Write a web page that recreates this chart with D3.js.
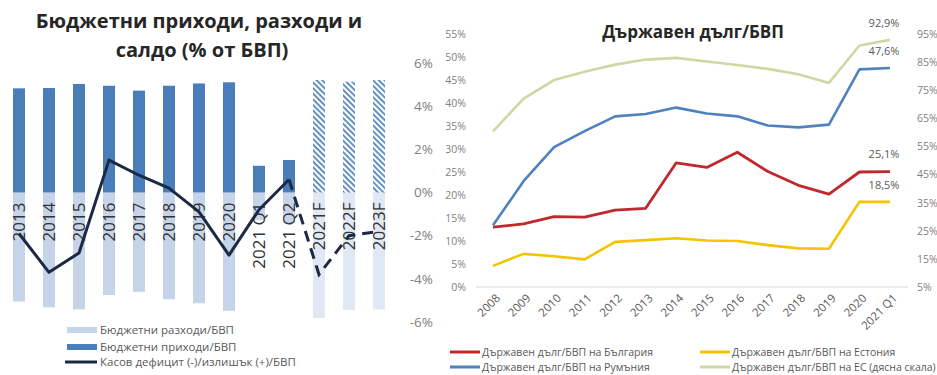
<!DOCTYPE html>
<html>
<head>
<meta charset="utf-8">
<script src="https://cdn.jsdelivr.net/npm/d3@7"></script>
<style>
  html, body { margin: 0; padding: 0; background: #fff; }
  svg { display: block; font-family: "Open Sans", "Noto Sans", sans-serif; }
</style>
</head>
<body>
<svg id="chart" width="937" height="375"></svg>
<script>
// ---------- Budget chart data (% of GDP) ----------
const budgetCats   = ["2013","2014","2015","2016","2017","2018","2019","2020","2021 Q1","2021 Q2","2021F","2022F","2023F"];
const revenue      = [36.2, 36.3, 37.7, 37.1, 35.4, 37.1, 37.9, 38.3, 9.3, 11.3, 39.1, 38.5, 39.1];
const expenditure  = [37.9, 39.9, 40.6, 35.6, 34.5, 37.1, 38.5, 41.1, 9.6, 10.5, 43.6, 40.8, 40.6];
const balance      = [-1.9, -3.7, -2.8, 1.5, 0.8, 0.2, -0.9, -2.9, -0.8, 0.6, -3.8, -2.0, -1.8];
const balanceTicks = [6, 4, 2, 0, -2, -4, -6];
const budgetLegend = ["Бюджетни разходи/БВП", "Бюджетни приходи/БВП", "Касов дефицит (-)/излишък (+)/БВП"];

// ---------- Government debt chart data (% of GDP) ----------
const debtYears    = ["2008","2009","2010","2011","2012","2013","2014","2015","2016","2017","2018","2019","2020","2021 Q1"];
const debtBulgaria = [13.0, 13.7, 15.3, 15.2, 16.7, 17.1, 27.0, 26.0, 29.3, 25.1, 22.1, 20.2, 25.0, 25.1];
const debtRomania  = [13.4, 23.0, 30.4, 33.9, 37.1, 37.6, 39.0, 37.7, 37.1, 35.1, 34.7, 35.3, 47.3, 47.6];
const debtEstonia  = [4.6, 7.2, 6.7, 6.0, 9.8, 10.2, 10.6, 10.1, 10.0, 9.1, 8.4, 8.3, 18.5, 18.5];
const debtEU       = [60.4, 72.0, 78.6, 81.6, 84.1, 85.9, 86.5, 85.2, 84.0, 82.6, 80.7, 77.6, 90.9, 92.9];
const debtTicksL   = [0, 5, 10, 15, 20, 25, 30, 35, 40, 45, 50, 55];
const debtTicksR   = [5, 15, 25, 35, 45, 55, 65, 75, 85, 95];
const debtLegend   = ["Държавен дълг/БВП на България", "Държавен дълг/БВП на Естония",
                      "Държавен дълг/БВП на Румъния", "Държавен дълг/БВП на ЕС (дясна скала)"];

const svg = d3.select("#chart");
const defs = svg.append("defs");

// diagonal hatch for forecast revenue bars
defs.append("pattern")
  .attr("id", "hatch")
  .attr("patternUnits", "userSpaceOnUse")
  .attr("width", 4).attr("height", 4)
  .attr("patternTransform", "rotate(45)")
  .append("rect")
  .attr("width", 4).attr("height", 1.7)
  .attr("fill", "#4a7ebb");

const C = {
  rev: "#4a7ebb", exp: "#c6d4ea", expF: "#e0e8f4", bal: "#1c2944",
  text: "#262626", axis: "#7f7f7f", legend: "#595959",
  bg: "#c0282d", ro: "#4f81bd", ee: "#f5c400", eu: "#cdd9a5"
};
const isForecast = c => c.endsWith("F");

// =====================================================================
// Left: budget revenue, expenditure and balance
// =====================================================================
const left = svg.append("g");

left.append("text")
  .attr("x", 199).attr("y", 28)
  .attr("text-anchor", "middle")
  .attr("font-size", 20).attr("font-weight", 700).attr("fill", C.text)
  .text("Бюджетни приходи, разходи и");
left.append("text")
  .attr("x", 202).attr("y", 57)
  .attr("text-anchor", "middle")
  .attr("font-size", 20).attr("font-weight", 700).attr("fill", C.text)
  .text("салдо (% от БВП)");

const xB = d3.scalePoint().domain(budgetCats).range([19, 379]);
const barW = xB.step() * 0.4;
const yBars = d3.scaleLinear().domain([-45, 45]).range([322, 63]);
const yBal  = d3.scaleLinear().domain([-6, 6]).range([322, 63]);

const budgetRows = budgetCats.map((c, i) => ({ c, rev: revenue[i], exp: expenditure[i], bal: balance[i] }));

// expenditure (drawn below zero)
left.append("g").selectAll("rect")
  .data(budgetRows).join("rect")
  .attr("x", d => xB(d.c) - barW / 2)
  .attr("y", yBars(0))
  .attr("width", barW)
  .attr("height", d => yBars(-d.exp) - yBars(0))
  .attr("fill", d => isForecast(d.c) ? C.expF : C.exp);

// revenue (drawn above zero)
left.append("g").selectAll("rect")
  .data(budgetRows).join("rect")
  .attr("x", d => xB(d.c) - barW / 2)
  .attr("y", d => yBars(d.rev))
  .attr("width", barW)
  .attr("height", d => yBars(0) - yBars(d.rev))
  .attr("fill", d => isForecast(d.c) ? "url(#hatch)" : C.rev);

// category labels, rotated, just under the zero line
left.append("g").selectAll("text")
  .data(budgetRows).join("text")
  .attr("transform", d => `translate(${xB(d.c)},${yBars(0) + 10}) rotate(-90)`)
  .attr("text-anchor", "end")
  .attr("dy", "0.36em")
  .attr("font-size", 17)
  .attr("fill", "#333")
  .text(d => d.c);

// balance line: actual (solid) and forecast (dashed)
const balLine = d3.line().x(d => xB(d.c)).y(d => yBal(d.bal));
const firstF = budgetRows.findIndex(d => isForecast(d.c));
left.append("path")
  .datum(budgetRows.slice(0, firstF))
  .attr("d", balLine)
  .attr("fill", "none").attr("stroke", C.bal).attr("stroke-width", 3)
  .attr("stroke-linejoin", "round");
left.append("path")
  .datum(budgetRows.slice(firstF - 1))
  .attr("d", balLine)
  .attr("fill", "none").attr("stroke", C.bal).attr("stroke-width", 3)
  .attr("stroke-dasharray", "11,7");

// balance axis (right of the bars)
const balAxis = left.append("g")
  .attr("transform", "translate(433,0)")
  .call(d3.axisLeft(yBal).tickValues(balanceTicks).tickSize(0).tickPadding(0).tickFormat(d => d + "%"));
balAxis.select(".domain").remove();
balAxis.selectAll("text").attr("font-size", 13.5).attr("fill", C.axis).attr("font-family", "Open Sans");

// legend
const lg = left.append("g").attr("font-size", 11.5).attr("fill", C.legend);
const lgY = [330, 347, 362];
lg.append("rect").attr("x", 67).attr("y", lgY[0] - 3).attr("width", 30).attr("height", 6).attr("fill", C.exp);
lg.append("rect").attr("x", 67).attr("y", lgY[1] - 3).attr("width", 30).attr("height", 6).attr("fill", C.rev);
lg.append("line").attr("x1", 65).attr("x2", 97).attr("y1", lgY[2]).attr("y2", lgY[2])
  .attr("stroke", C.bal).attr("stroke-width", 3);
budgetLegend.forEach((t, i) => {
  lg.append("text").attr("x", 100).attr("y", lgY[i]).attr("dy", "0.35em").text(t);
});

// =====================================================================
// Right: government debt
// =====================================================================
const right = svg.append("g");

right.append("text")
  .attr("x", 693).attr("y", 38)
  .attr("text-anchor", "middle")
  .attr("font-size", 17).attr("font-weight", 700).attr("fill", C.text)
  .text("Държавен дълг/БВП");

const xD = d3.scalePoint().domain(debtYears).range([493, 890]);
const yL = d3.scaleLinear().domain([0, 55]).range([287, 34]);
const yR = d3.scaleLinear().domain([5, 95]).range([287, 34]);

// baseline
right.append("line")
  .attr("x1", 476).attr("x2", 908)
  .attr("y1", yL(0)).attr("y2", yL(0))
  .attr("stroke", "#d9d9d9").attr("stroke-width", 1);

// left axis
const axL = right.append("g").attr("transform", "translate(466,0)")
  .call(d3.axisLeft(yL).tickValues(debtTicksL).tickSize(0).tickPadding(0).tickFormat(d => d + "%"));
axL.select(".domain").remove();
axL.selectAll("text").attr("font-size", 10.5).attr("fill", C.axis).attr("font-family", "Open Sans");

// right axis
const axR = right.append("g").attr("transform", "translate(917,0)")
  .call(d3.axisRight(yR).tickValues(debtTicksR).tickSize(0).tickPadding(0).tickFormat(d => d + "%"));
axR.select(".domain").remove();
axR.selectAll("text").attr("font-size", 10.5).attr("fill", C.axis).attr("font-family", "Open Sans");

// x labels, slanted
right.append("g").selectAll("text")
  .data(debtYears).join("text")
  .attr("transform", d => `translate(${xD(d) + 5},${yL(0) + 9}) rotate(-45)`)
  .attr("text-anchor", "end")
  .attr("dy", "0.35em")
  .attr("font-size", 11.5)
  .attr("fill", C.legend)
  .text(d => d);

const series = [
  { vals: debtEU,       y: yR, color: C.eu, w: 2.6 },
  { vals: debtEstonia,  y: yL, color: C.ee, w: 2.6 },
  { vals: debtRomania,  y: yL, color: C.ro, w: 2.6 },
  { vals: debtBulgaria, y: yL, color: C.bg, w: 2.8 }
];
series.forEach(s => {
  const line = d3.line().x((d, i) => xD(debtYears[i])).y(d => s.y(d));
  right.append("path")
    .datum(s.vals)
    .attr("d", line)
    .attr("fill", "none")
    .attr("stroke", s.color)
    .attr("stroke-width", s.w)
    .attr("stroke-linejoin", "round");
});

// end-point value labels
const bgLocale = d3.formatLocale({ decimal: ",", thousands: " ", grouping: [3], currency: ["", ""] });
const fmt = bgLocale.format(".1f");
const last = debtYears.length - 1;
series.forEach(s => {
  right.append("text")
    .attr("x", xD(debtYears[last]) - 6)
    .attr("y", s.y(s.vals[last]) - 17)
    .attr("dy", "0.35em")
    .attr("text-anchor", "middle")
    .attr("font-size", 11)
    .attr("fill", C.legend)
    .text(fmt(s.vals[last]) + "%");
});

// legend (two columns)
const dl = right.append("g").attr("font-size", 10.5).attr("fill", C.legend);
const dlItems = [
  { t: debtLegend[0], c: C.bg, x: 450, y: 352 },
  { t: debtLegend[1], c: C.ee, x: 700, y: 352 },
  { t: debtLegend[2], c: C.ro, x: 450, y: 367 },
  { t: debtLegend[3], c: C.eu, x: 700, y: 367 }
];
dlItems.forEach(d => {
  dl.append("line").attr("x1", d.x).attr("x2", d.x + 30).attr("y1", d.y).attr("y2", d.y)
    .attr("stroke", d.c).attr("stroke-width", 3);
  dl.append("text").attr("x", d.x + 32).attr("y", d.y).attr("dy", "0.35em").text(d.t);
});
</script>
</body>
</html>
